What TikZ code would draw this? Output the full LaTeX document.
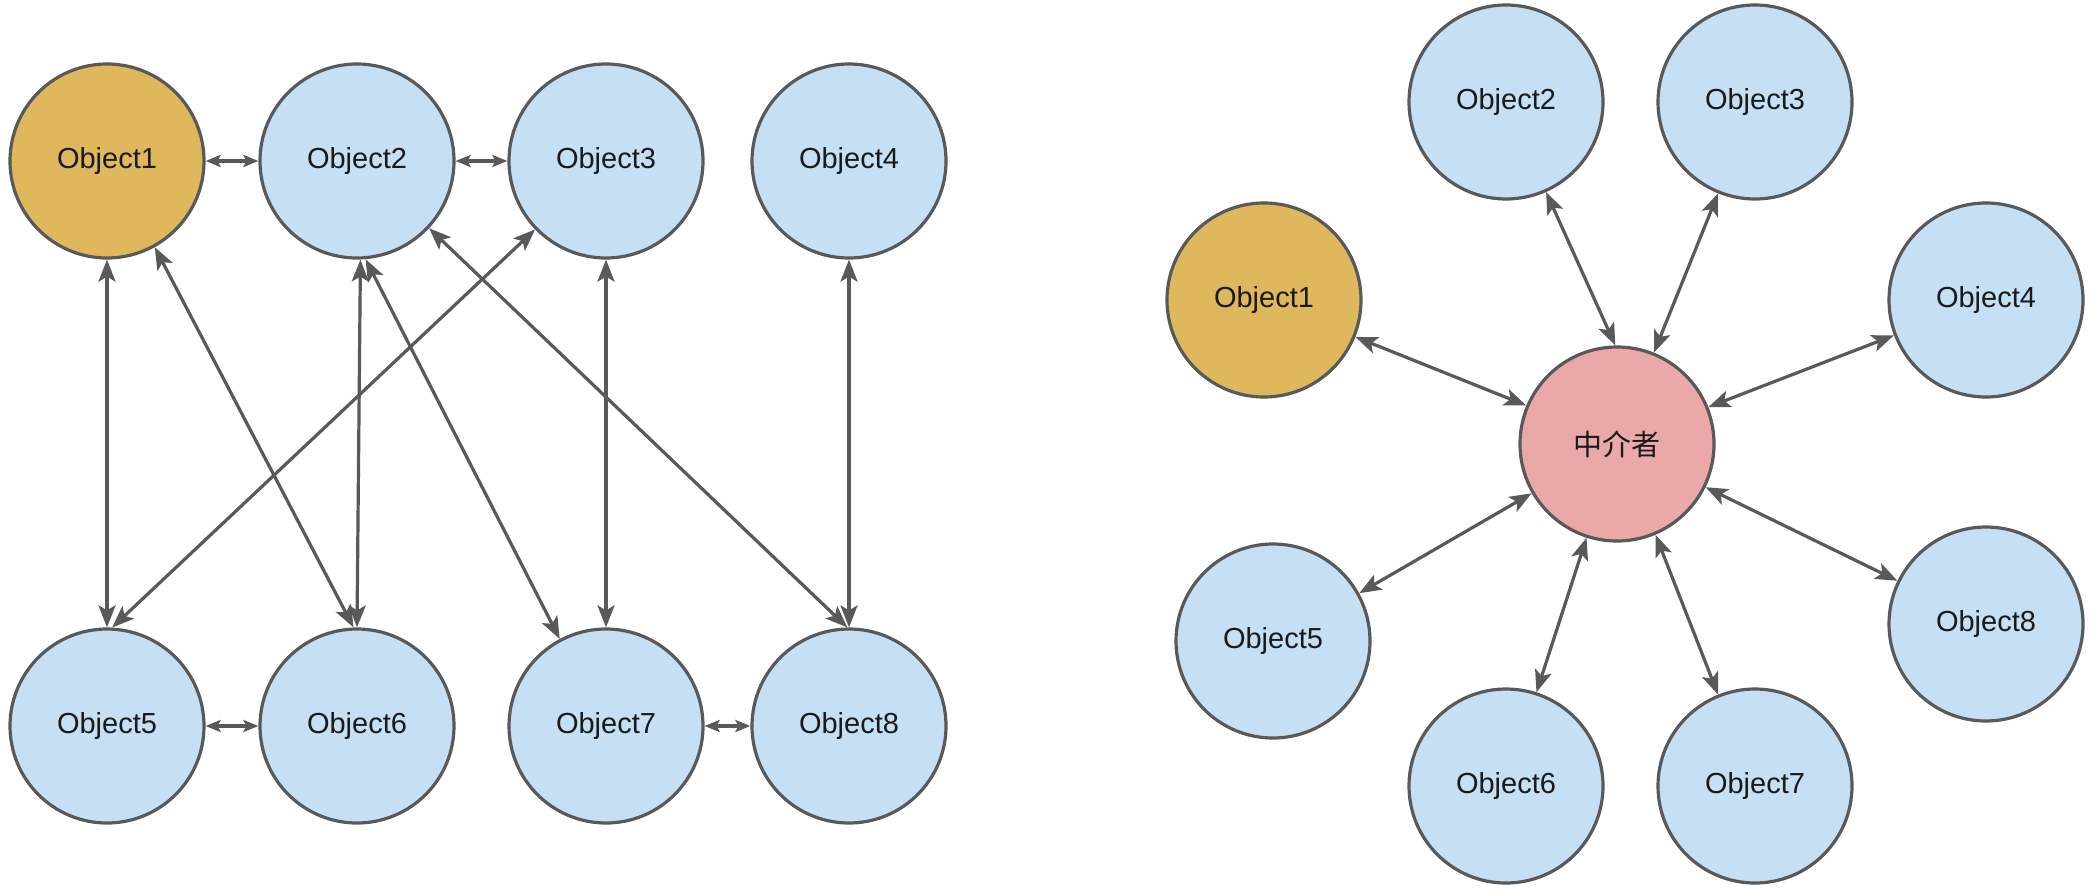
\documentclass[tikz,border=0pt]{standalone}
\usepackage{fontspec}
\setmainfont{Liberation Sans}
\newfontfamily\cjk{Noto Sans CJK SC}
\usetikzlibrary{arrows.meta}
\definecolor{objgold}{HTML}{DFB85E}
\definecolor{objblue}{HTML}{C5E0F4}
\definecolor{objpink}{HTML}{EBA8A8}
\definecolor{edgegray}{HTML}{595959}
\definecolor{txtcol}{HTML}{1A1A1A}
\begin{document}
\begin{tikzpicture}[x=0.5pt,y=-0.5pt,
  obj/.style={circle, draw=edgegray, line width=1.6pt, minimum size=97pt, inner sep=0pt,
    fill=objblue, text=txtcol, font=\fontsize{14.5}{16}\selectfont},
  link/.style={draw=edgegray, line width=1.6pt,
    {Stealth[length=11pt,width=8.5pt,inset=2.5pt]}-{Stealth[length=11pt,width=8.5pt,inset=2.5pt]}},
  shortlink/.style={draw=edgegray, line width=1.8pt,
    {Stealth[length=7.5pt,width=6pt,inset=1.5pt]}-{Stealth[length=7.5pt,width=6pt,inset=1.5pt]}}
]
\path[use as bounding box, fill=white] (0,0) rectangle (2099,888);

% left diagram
\node[obj, fill=objgold] (a1) at (107,161) {Object1};
\node[obj] (a2) at (357,161) {Object2};
\node[obj] (a3) at (606,161) {Object3};
\node[obj] (a4) at (849,161) {Object4};
\node[obj] (a5) at (107,726) {Object5};
\node[obj] (a6) at (357,726) {Object6};
\node[obj] (a7) at (606,726) {Object7};
\node[obj] (a8) at (849,726) {Object8};

\draw[shortlink] (a1.east) -- (a2.west);
\draw[shortlink] (a2.east) -- (a3.west);
\draw[shortlink] (a5.east) -- (a6.west);
\draw[shortlink] (a7.east) -- (a8.west);

\draw[link] (a1.south) -- (a5.north);
\draw[link] (a1.-61) -- (a6.92);
\draw[link] (a2.-88) -- (a6.90);
\draw[link] (a2.-85) -- (a7.118);
\draw[link] (a2.-43) -- (a8.91);
\draw[link] (a3.-136) -- (a5.87);
\draw[link] (a3.south) -- (a7.north);
\draw[link] (a4.south) -- (a8.north);

% right diagram
\node[obj, fill=objpink, font=\cjk\fontsize{14.5}{16}\selectfont] (m) at (1617,444) {中介者};
\node[obj, fill=objgold] (b1) at (1264,300) {Object1};
\node[obj] (b2) at (1506,102) {Object2};
\node[obj] (b3) at (1755,102) {Object3};
\node[obj] (b4) at (1986,300) {Object4};
\node[obj] (b5) at (1273,641) {Object5};
\node[obj] (b6) at (1506,786) {Object6};
\node[obj] (b7) at (1755,786) {Object7};
\node[obj] (b8) at (1986,624) {Object8};

\draw[link] (m.91) -- (b2.-66);
\draw[link] (m.68) -- (b3.-112);
\draw[link] (m.157) -- (b1.-22);
\draw[link] (m.22) -- (b4.201);
\draw[link] (m.210) -- (b5.29);
\draw[link] (m.252) -- (b6.72);
\draw[link] (m.293) -- (b7.112);
\draw[link] (m.-26.5) -- (b8.154);
\end{tikzpicture}
\end{document}
